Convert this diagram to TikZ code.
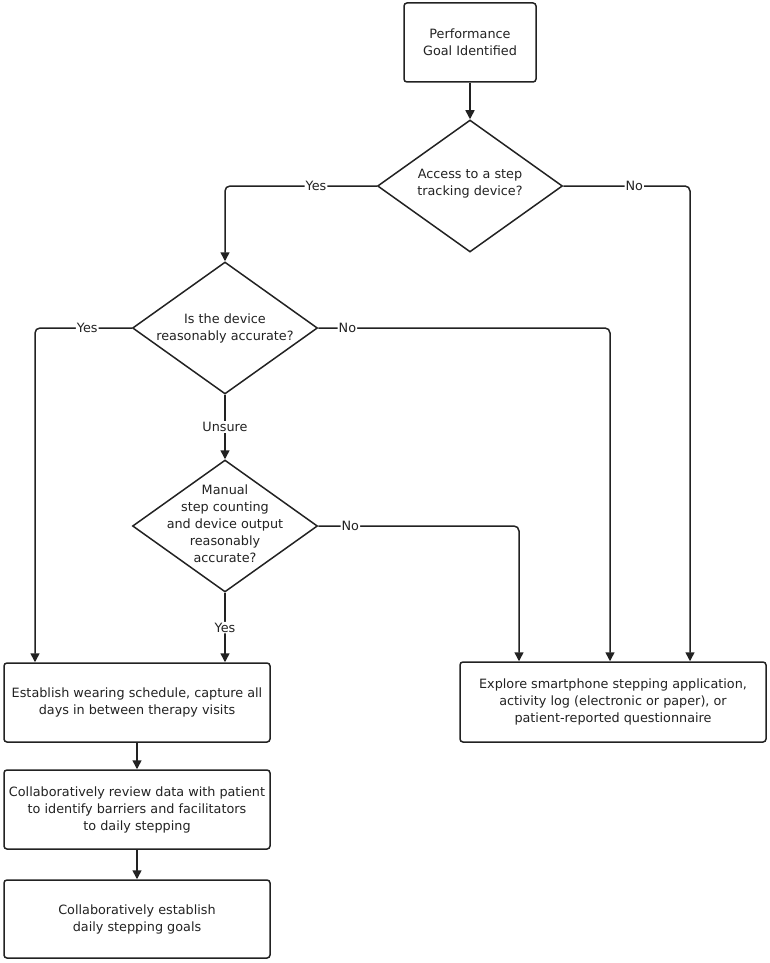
\documentclass[tikz,border=0pt]{standalone}
\usepackage{fontspec}
\setmainfont{DejaVu Sans}
\usetikzlibrary{shapes.geometric,arrows.meta,positioning}
\definecolor{ink}{HTML}{222222}

\begin{document}
\begin{tikzpicture}[
  x=1pt,y=-1pt,
  every node/.style={text=ink,font=\fontsize{12.8}{17}\selectfont},
  process/.style={draw=ink,line width=1.5pt,rounded corners=3pt,align=center,
    inner sep=0pt},
  decision/.style={diamond,draw=ink,line width=1.5pt,inner sep=0pt,
    minimum width=185pt,minimum height=132pt},
  qtext/.style={align=center,inner sep=0pt},
  flow/.style={draw=ink,line width=1.5pt,rounded corners=5pt,
    -{Triangle[length=9pt,width=9pt]}},
  answer/.style={fill=white,inner sep=1pt}
]
  \useasboundingbox (0,0) rectangle (770,963);

  \node[process,minimum width=132pt,minimum height=79pt] (goal) at (470,42.5)
    {Performance\\Goal Identified};

  \node[decision] (access) at (470,186) {};
  \node[qtext] (accesstext) at (470,184) {Access to a step\\tracking device?};

  \node[decision] (accurate) at (225,328) {};
  \node[qtext] (accuratetext) at (225,328) {Is the device\\reasonably accurate?};

  \node[decision] (manual) at (225,526) {};
  \node[qtext] (manualtext) at (225,524)
    {Manual\\step counting\\and device output\\reasonably\\accurate?};

  \node[process,minimum width=266pt,minimum height=79pt] (schedule) at (137,702.5)
    {Establish wearing schedule, capture all\\days in between therapy visits};
  \node[process,minimum width=266pt,minimum height=79pt] (review) at (137,809.5)
    {Collaboratively review data with patient\\to identify barriers and facilitators\\to daily stepping};
  \node[process,minimum width=266pt,minimum height=78pt] (goals) at (137,919)
    {Collaboratively establish\\daily stepping goals};

  \node[process,minimum width=306pt,minimum height=80pt] (explore) at (613,702)
    {Explore smartphone stepping application,\\activity log (electronic or paper), or\\patient-reported questionnaire};

  % main line
  \draw[flow] (goal) -- (access);
  \draw[flow] (access.west) -| node[answer,pos=0.2] (yes1) {Yes} (accurate.north);
  \draw[flow] (access.east) -| node[answer,pos=0.28] (no1) {No}
    ([xshift=77pt]explore.north);

  \draw[flow] (accurate.west) -| node[answer,pos=0.23] (yes2) {Yes}
    ([xshift=-102pt]schedule.north);
  \draw[flow] (accurate.east) -| node[answer,pos=0.05] (no2) {No}
    ([xshift=-3pt]explore.north);
  \draw[flow] (accurate.south) -- node[answer] (unsure) {Unsure} (manual.north);

  \draw[flow] (manual.east) -| node[answer,pos=0.08] (no3) {No}
    ([xshift=-94pt]explore.north);
  \draw[flow] (manual.south) -- node[answer] (yes3) {Yes}
    ([xshift=88pt]schedule.north);

  \draw[flow] (schedule) -- (review);
  \draw[flow] (review) -- (goals);
\end{tikzpicture}
\end{document}
